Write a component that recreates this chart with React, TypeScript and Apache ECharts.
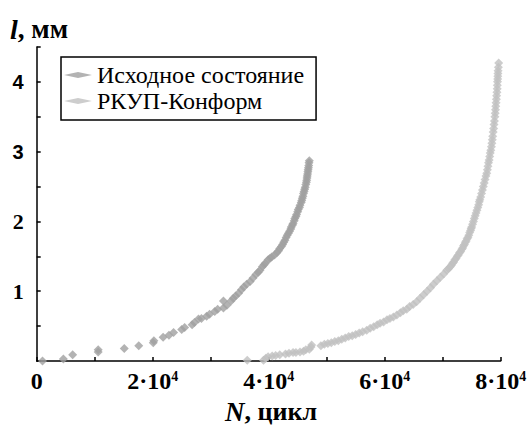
import React, { useEffect, useRef } from "react";
import * as echarts from "echarts";

const seriesNames = ["Исходное состояние", "РКУП-Конформ"];

const initialState: [number, number][] = [
  [1000, 0.0], [4600, 0.03], [6200, 0.09], [10600, 0.13], [10600, 0.16],
  [15100, 0.18], [17600, 0.22], [20100, 0.26], [20200, 0.29], [21800, 0.34],
  [22800, 0.37], [23600, 0.41], [25000, 0.45], [25500, 0.48], [26800, 0.52],
  [27200, 0.55], [27900, 0.6], [28400, 0.61], [29300, 0.64], [29800, 0.67],
  [30700, 0.71], [31200, 0.74], [32200, 0.76], [32200, 0.86], [32800, 0.8],
  [33500, 0.86], [33900, 0.9], [34300, 0.93], [34800, 0.97], [35300, 1.02],
  [35700, 1.06], [36200, 1.1], [36800, 1.14], [37300, 1.19], [37800, 1.24],
  [38200, 1.27], [38500, 1.3], [38900, 1.35], [39200, 1.38], [39400, 1.4],
  [39900, 1.45], [40200, 1.47], [40500, 1.49], [41000, 1.52], [41400, 1.55],
  [41700, 1.58], [41900, 1.61], [42200, 1.64], [42400, 1.67], [42600, 1.7],
  [42800, 1.73], [43000, 1.77], [43200, 1.8], [43400, 1.83], [43600, 1.86],
  [43800, 1.89], [43900, 1.92], [44100, 1.95], [44200, 1.97], [44400, 2.01],
  [44500, 2.04], [44700, 2.07], [44800, 2.1], [45000, 2.14], [45100, 2.17],
  [45300, 2.2], [45400, 2.23], [45600, 2.27], [45700, 2.3], [45800, 2.33],
  [45900, 2.36], [46000, 2.4], [46100, 2.43], [46200, 2.46], [46300, 2.49],
  [46400, 2.53], [46500, 2.56], [46550, 2.59], [46600, 2.62], [46650, 2.65],
  [46700, 2.68], [46750, 2.71], [46800, 2.74], [46850, 2.77], [46900, 2.8],
  [46950, 2.84], [47000, 2.87],
];

const ecapConform: [number, number][] = [
  [36300, 0.01], [39100, 0.01], [39500, 0.04], [39900, 0.06], [40600, 0.07],
  [41200, 0.08], [41900, 0.09], [42900, 0.1], [43500, 0.11], [44200, 0.12],
  [44700, 0.12], [45400, 0.13], [46000, 0.14], [46400, 0.16], [47000, 0.17],
  [47300, 0.2], [47400, 0.23], [49000, 0.22], [49600, 0.24], [50200, 0.25],
  [50800, 0.26], [51400, 0.28], [52000, 0.29], [52600, 0.31], [53200, 0.33],
  [53800, 0.35], [54400, 0.36], [55000, 0.38], [55600, 0.4], [56200, 0.42],
  [56900, 0.44], [57500, 0.47], [58100, 0.49], [58700, 0.52], [59200, 0.54],
  [59800, 0.56], [60400, 0.59], [60900, 0.61], [61500, 0.63], [62100, 0.66],
  [62700, 0.69], [63200, 0.72], [63800, 0.74], [64300, 0.78], [64900, 0.81],
  [65500, 0.85], [66100, 0.9], [66700, 0.95], [67300, 1.0], [67900, 1.05],
  [68400, 1.1], [69000, 1.15], [69600, 1.2], [70200, 1.25], [70700, 1.3],
  [71000, 1.32], [71300, 1.35], [71500, 1.37], [71700, 1.4], [71900, 1.42],
  [72100, 1.45], [72300, 1.47], [72500, 1.5], [72700, 1.52], [72900, 1.55],
  [73100, 1.57], [73300, 1.6], [73450, 1.62], [73600, 1.65], [73750, 1.67],
  [73900, 1.7], [74050, 1.72], [74200, 1.75], [74350, 1.77], [74500, 1.8],
  [74650, 1.84], [74800, 1.87], [74900, 1.9], [75000, 1.92], [75150, 1.96],
  [75300, 2.0], [75450, 2.04], [75600, 2.08], [75750, 2.12], [75900, 2.16],
  [76050, 2.2], [76200, 2.24], [76300, 2.28], [76400, 2.31], [76550, 2.35],
  [76700, 2.4], [76850, 2.45], [77000, 2.5], [77150, 2.55], [77300, 2.6],
  [77450, 2.65], [77600, 2.69], [77700, 2.74], [77800, 2.79], [77900, 2.84],
  [78000, 2.88], [78100, 2.93], [78200, 2.98], [78300, 3.02], [78400, 3.07],
  [78480, 3.12], [78550, 3.17], [78620, 3.22], [78700, 3.28], [78780, 3.33],
  [78850, 3.39], [78920, 3.44], [79000, 3.5], [79050, 3.55], [79100, 3.6],
  [79150, 3.65], [79200, 3.7], [79250, 3.75], [79300, 3.8], [79350, 3.85],
  [79400, 3.9], [79420, 3.95], [79450, 4.0], [79480, 4.04], [79500, 4.08],
  [79520, 4.12], [79550, 4.16], [79600, 4.21], [79650, 4.27],
];

const xTickLabels: Record<number, string> = {
  0: "{a|0}",
  20000: "{a|2·10}{b|4}",
  40000: "{a|4·10}{b|4}",
  60000: "{a|6·10}{b|4}",
  80000: "{a|8·10}{b|4}",
};

const yTickLabels: Record<number, string> = {
  1: "{r|1}",
  2: "{r|2}",
  3: "{s|3}",
  4: "{s|4}",
};

const SERIF = "Liberation Serif";
const SANS = "Liberation Sans";

export default function App() {
  const ref = useRef<HTMLDivElement>(null);

  useEffect(() => {
    if (!ref.current) return;
    const chart = echarts.init(ref.current, undefined, { renderer: "svg" });
    const axisLine = { show: true, lineStyle: { color: "#000", width: 1.5 } };
    chart.setOption({
      animation: false,
      backgroundColor: "#fff",
      textStyle: { fontFamily: SERIF },
      grid: { left: 36.7, right: 30.3, top: 46.9, bottom: 64, containLabel: false },
      legend: {
        orient: "vertical",
        left: 61,
        top: 57,
        icon: "diamond",
        itemWidth: 28,
        itemHeight: 6,
        itemGap: 2,
        padding: [6, 12, 7, 3],
        borderColor: "#000",
        borderWidth: 1.5,
        textStyle: { fontFamily: SERIF, fontSize: 24, color: "#000" },
        data: seriesNames,
      },
      xAxis: {
        type: "value",
        min: 0,
        max: 80000,
        interval: 10000,
        axisLine,
        axisTick: { show: true, inside: true, length: 4, lineStyle: { color: "#000", width: 1.5 } },
        splitLine: { show: false },
        axisLabel: {
          margin: 8,
          fontFamily: SERIF,
          formatter: (v: number) => xTickLabels[v] ?? "",
          rich: {
            a: { fontFamily: SERIF, fontSize: 24, fontWeight: "bold", color: "#000" },
            b: { fontFamily: SERIF, fontSize: 14, fontWeight: "bold", color: "#000", verticalAlign: "top" },
          },
        },
      },
      yAxis: {
        type: "value",
        min: 0,
        max: 4.5,
        interval: 0.5,
        axisLine,
        axisTick: { show: true, inside: true, length: 4, lineStyle: { color: "#000", width: 1.5 } },
        splitLine: { show: false },
        axisLabel: {
          margin: 13,
          formatter: (v: number) => yTickLabels[v] ?? "",
          rich: {
            r: { fontFamily: SERIF, fontSize: 22, fontWeight: "bold", color: "#000" },
            s: { fontFamily: SANS, fontSize: 20, fontWeight: "bold", color: "#000" },
          },
        },
      },
      graphic: [
        {
          type: "text",
          left: 10,
          top: 15,
          style: {
            text: "{i|l}{n|, мм}",
            fontFamily: SERIF,
            rich: {
              i: { fontFamily: SERIF, fontSize: 28, fontWeight: "bold", fontStyle: "italic", fill: "#000" },
              n: { fontFamily: SERIF, fontSize: 27, fontWeight: "bold", fill: "#000" },
            },
          },
        },
        {
          type: "text",
          left: 225,
          top: 398,
          style: {
            text: "{i|N}{n|, цикл}",
            fontFamily: SERIF,
            rich: {
              i: { fontFamily: SERIF, fontSize: 27, fontWeight: "bold", fontStyle: "italic", fill: "#000" },
              n: { fontFamily: SERIF, fontSize: 26, fontWeight: "bold", fill: "#000" },
            },
          },
        },
      ],
      series: [
        {
          name: seriesNames[0],
          type: "scatter",
          symbol: "diamond",
          symbolSize: 9,
          itemStyle: { color: "#a0a0a0" },
          data: initialState,
        },
        {
          name: seriesNames[1],
          type: "scatter",
          symbol: "diamond",
          symbolSize: 9,
          itemStyle: { color: "#c0c0c0" },
          data: ecapConform,
        },
      ],
    });
    return () => chart.dispose();
  }, []);

  return (
    <div
      ref={ref}
      style={{ position: "absolute", left: 0, top: 0, width: 531, height: 425 }}
    />
  );
}
